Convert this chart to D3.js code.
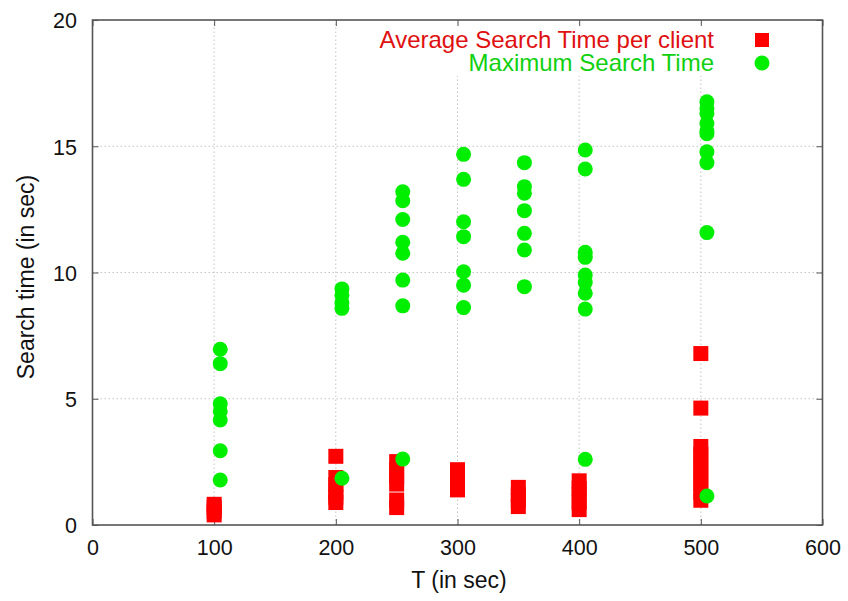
<!DOCTYPE html>
<html>
<head>
<meta charset="utf-8">
<script src="https://cdn.jsdelivr.net/npm/d3@7"></script>
<style>
  html, body { margin: 0; padding: 0; background: #fff; }
  svg { display: block; font-family: "Liberation Sans", Arial, sans-serif; }
</style>
</head>
<body>
<svg id="chart" width="848" height="601"></svg>
<script>
// Search time measurements grouped by T
const avgT = [100, 200, 250, 300, 350, 400, 500];
const avgTimes = [
  [0.4, 0.55, 0.7, 0.82],
  [2.72, 1.88, 1.6, 1.3, 1.1, 0.89],
  [2.51, 2.2, 1.9, 1.62, 0.99, 0.69],
  [2.19, 1.9, 1.6, 1.39],
  [1.49, 1.2, 0.95, 0.73],
  [1.75, 1.45, 1.2, 0.9, 0.61],
  [6.79, 4.63, 3.11, 2.8, 2.5, 2.2, 1.9, 1.6, 1.3, 0.98]
];
const maxT = [105, 205, 255, 305, 355, 405, 505];
const maxTimes = [
  [6.96, 6.39, 4.8, 4.5, 4.16, 2.94, 1.78],
  [9.35, 9.1, 8.8, 8.58, 1.85],
  [13.2, 12.84, 12.1, 11.2, 10.76, 9.7, 8.68, 2.61],
  [14.68, 13.69, 12.01, 11.42, 10.03, 9.5, 8.61],
  [14.35, 13.4, 13.14, 12.45, 11.55, 10.89, 9.44],
  [14.85, 14.1, 10.8, 10.6, 9.9, 9.6, 9.18, 8.55, 2.6],
  [16.76, 16.5, 16.3, 15.9, 15.6, 15.5, 14.78, 14.35, 11.58, 1.15]
];
const xTicks = [0, 100, 200, 300, 400, 500, 600];
const yTicks = [0, 5, 10, 15, 20];
const seriesNames = ["Average Search Time per client", "Maximum Search Time"];

const RED = "#ff0000", GREEN = "#00ee00";
const svg = d3.select("#chart");
const L = 92.5, R = 822.5, T = 20, B = 525;

const x = d3.scaleLinear().domain([0, 600]).range([L, R]);
const y = d3.scaleLinear().domain([0, 20]).range([B, T]);

// dotted grid
const grid = svg.append("g").attr("stroke", "#c4c4c4").attr("stroke-width", 1)
  .attr("stroke-dasharray", "1.5,2.5");
grid.selectAll("line.v").data(xTicks.slice(1, -1)).join("line")
  .attr("x1", d => x(d)).attr("x2", d => x(d)).attr("y1", B).attr("y2", T);
grid.selectAll("line.h").data(yTicks.slice(1, -1)).join("line")
  .attr("x1", L).attr("x2", R).attr("y1", d => y(d)).attr("y2", d => y(d));

// legend background hides grid behind the key
svg.append("rect").attr("x", 368).attr("y", 24).attr("width", 414).attr("height", 52).attr("fill", "#fff");

// axes with inward ticks
const axFont = g => g.selectAll("text").attr("font-size", 21.5).attr("fill", "#111")
  .attr("font-family", "'Liberation Sans', Arial, sans-serif");
const xAxis = svg.append("g").attr("transform", `translate(0,${B})`)
  .call(d3.axisBottom(x).tickValues(xTicks).tickSize(-6).tickPadding(15));
xAxis.call(axFont);
const yAxis = svg.append("g").attr("transform", `translate(${L},0)`)
  .call(d3.axisLeft(y).tickValues(yTicks).tickSize(-6).tickPadding(15.5));
yAxis.call(axFont);
svg.append("g").attr("transform", `translate(0,${T})`)
  .call(d3.axisTop(x).tickValues(xTicks).tickSize(-6).tickFormat(""));
svg.append("g").attr("transform", `translate(${R},0)`)
  .call(d3.axisRight(y).tickValues(yTicks).tickSize(-6).tickFormat(""));
svg.selectAll(".domain").remove();
svg.selectAll(".tick line").attr("stroke", "#555");
yAxis.selectAll("text").attr("dy", "0.36em");

// frame
svg.append("rect").attr("x", L).attr("y", T).attr("width", R - L).attr("height", B - T)
  .attr("fill", "none").attr("stroke", "#555").attr("stroke-width", 1.6);

// average search time squares
const avgPts = avgT.flatMap((t, i) => avgTimes[i].map(v => ({ t, v })));
const S = 15;
svg.append("g").selectAll("rect").data(avgPts).join("rect")
  .attr("x", d => x(d.t) - S / 2).attr("y", d => y(d.v) - S / 2)
  .attr("width", S).attr("height", S).attr("fill", RED);

// maximum search time circles
const maxPts = maxT.flatMap((t, i) => maxTimes[i].map(v => ({ t, v })));
svg.append("g").selectAll("circle").data(maxPts).join("circle")
  .attr("cx", d => x(d.t)).attr("cy", d => y(d.v)).attr("r", 7.5).attr("fill", GREEN);

// legend
const leg = svg.append("g").attr("font-size", 24);
leg.append("text").attr("x", 714).attr("y", 48).attr("text-anchor", "end")
  .attr("fill", "#e01010").text(seriesNames[0]);
leg.append("rect").attr("x", 755).attr("y", 33).attr("width", 14).attr("height", 14).attr("fill", RED);
leg.append("text").attr("x", 714).attr("y", 71).attr("text-anchor", "end")
  .attr("fill", "#10d010").text(seriesNames[1]);
leg.append("circle").attr("cx", 762).attr("cy", 63).attr("r", 7.5).attr("fill", GREEN);

// axis titles
svg.append("text").attr("x", 459).attr("y", 588).attr("text-anchor", "middle")
  .attr("font-size", 23).attr("fill", "#111").text("T (in sec)");
svg.append("text").attr("transform", "translate(34,277) rotate(-90)")
  .attr("text-anchor", "middle").attr("font-size", 23).attr("fill", "#111")
  .text("Search time (in sec)");
</script>
</body>
</html>
